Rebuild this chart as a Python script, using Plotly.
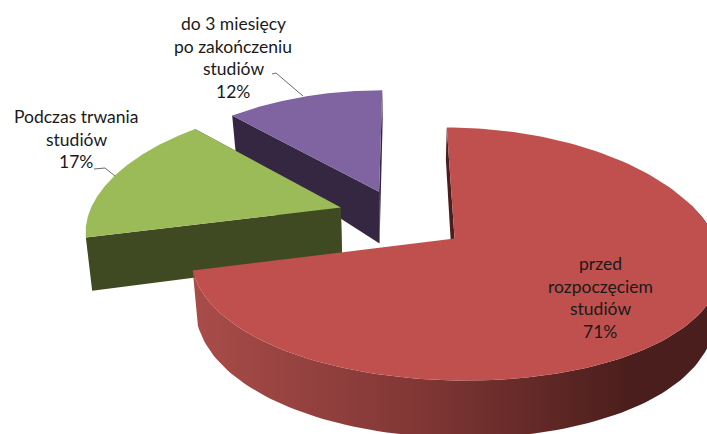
import numpy as np
import plotly.graph_objects as go

# Data
categories = ["przed rozpoczęciem studiów", "Podczas trwania studiów", "do 3 miesięcy po zakończeniu studiów"]
values = [71, 17, 12]
label_lines = [
    ["przed", "rozpoczęciem", "studiów", "71%"],
    ["Podczas trwania", "studiów", "17%"],
    ["do 3 miesięcy", "po zakończeniu", "studiów", "12%"],
]
top_colors = ["#C0504D", "#9BBB59", "#8064A2"]
wall_colors = ["#4A1E1C", "#404A22", "#352742"]
rim_gradient = [[0, "#A84C49"], [0.45, "#7F3634"], [0.85, "#4A1E1C"], [1, "#4A1E1C"]]
base_depth = [48, 52, 54]
depth_nudge = [0, 0.03, 0]

# Projection of the tilted pie onto the plot's coordinate system
CX, CY, F, G, K, KX, EXPLODE = 402, 219.5, 254, 120, 0.12, 0.17, 0.255
SHRINK = 0.98

def project(X, Z):
    return CX + F * X / (1 + KX * Z), CY - G * Z / (1 + K * Z)

def project_low(X, Z, base):
    x, y = project(X, Z)
    h = base - 8 * np.minimum(Z, 0.2) - 22 * np.maximum(Z - 0.2, 0)
    return CX + (x - CX) * SHRINK, y + h

fracs = np.array(values, dtype=float) / sum(values)
edges = np.concatenate([[0], np.cumsum(fracs)]) * 2 * np.pi

fig = go.Figure()

def poly(x, y, color=None, gradient=None):
    kw = dict(fillgradient=gradient) if gradient else dict(fillcolor=color)
    fig.add_trace(go.Scatter(x=np.append(x, x[0]), y=np.append(y, y[0]), mode="lines", fill="toself",
                             line=dict(width=0), hoverinfo="skip", showlegend=False, **kw))

for i in [2, 1, 0]:
    a0, a1 = edges[i], edges[i + 1]
    mid = (a0 + a1) / 2
    ox, oz = EXPLODE * np.sin(mid), EXPLODE * np.cos(mid) + depth_nudge[i]
    t = np.linspace(a0, a1, 160)
    X, Z = ox + np.sin(t), oz + np.cos(t)
    tx, ty = project(X, Z)
    bx, by = project_low(X, Z, base_depth[i])
    ax, ay = project(ox, oz)
    lx, ly = project_low(ox, oz, base_depth[i])
    # radial walls
    poly(np.array([tx[0], ax, lx, bx[0]]), np.array([ty[0], ay, ly, by[0]]), wall_colors[i])
    if i == 0:
        front = t > np.pi / 2 - 0.3
        poly(np.concatenate([tx[front], bx[front][::-1]]), np.concatenate([ty[front], by[front][::-1]]),
             gradient=dict(type="horizontal", colorscale=rim_gradient, start=196, stop=707))
    else:
        poly(np.array([tx[-1], ax, lx, bx[-1]]), np.array([ty[-1], ay, ly, by[-1]]), wall_colors[i])
    # top face
    poly(np.concatenate([[ax], tx]), np.concatenate([[ay], ty]), top_colors[i])

# Leader lines
leaders = [([272, 276, 303], [74, 73, 96]), ([94, 105, 115], [169, 168, 176])]
for lx_, ly_ in leaders:
    fig.add_trace(go.Scatter(x=lx_, y=ly_, mode="lines", line=dict(color="#6b6b6b", width=1),
                             hoverinfo="skip", showlegend=False))

# Labels
anchors = [(600, 263.5, "#1a1a1a"), (76, 116.5, "#1a1a1a"), (233, 23.5, "#1a1a1a")]
annotations = []
for lines, (ax_, ay_, col) in zip(label_lines, anchors):
    for n, line in enumerate(lines):
        annotations.append(dict(x=ax_, y=ay_ + n * 22.7, text=line, showarrow=False, xref="x", yref="y",
                                xanchor="center", yanchor="middle",
                                font=dict(family="Lato", size=17.5, color=col)))

fig.update_layout(
    width=707, height=434, margin=dict(l=0, r=0, t=0, b=0),
    paper_bgcolor="white", plot_bgcolor="white",
    xaxis=dict(range=[0, 707], visible=False, fixedrange=True),
    yaxis=dict(range=[434, 0], visible=False, fixedrange=True),
    annotations=annotations, showlegend=False,
)
fig.write_html("out.html", config={"displayModeBar": False},
               post_script="document.body.style.margin='0';document.body.style.overflow='hidden';")
